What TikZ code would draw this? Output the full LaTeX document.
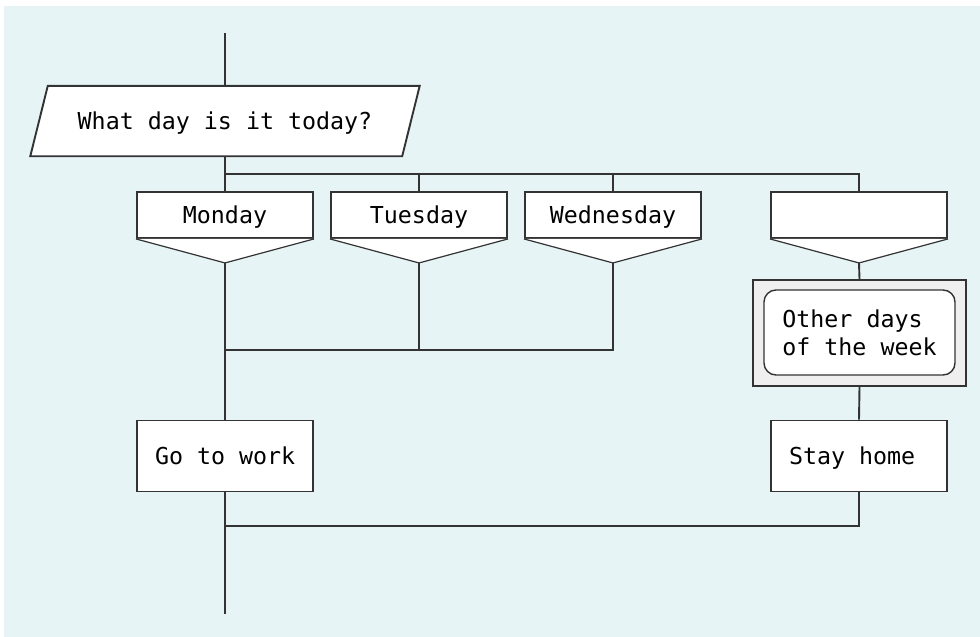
\documentclass[tikz,border=0pt]{standalone}
\usepackage{fontspec}
\setmonofont{DejaVu Sans Mono}
\usetikzlibrary{calc}
\definecolor{bgcyan}{RGB}{230,244,245}
\definecolor{ink}{RGB}{51,51,51}
\definecolor{panelgray}{RGB}{239,239,239}
\newcommand{\actiontext}[1]{\makebox[140pt][l]{#1}}
\begin{document}
\begin{tikzpicture}[x=1pt,y=-1pt,
  every node/.style={font=\ttfamily\fontsize{23.3}{28}\selectfont, text=black},
  flow/.style={draw=ink, line width=1.9pt},
  tipline/.style={draw=ink, line width=1.2pt, fill=white},
  label/.style={inner sep=0pt, text height=21pt, text depth=5pt},
  box/.style={label, draw=ink, line width=1.9pt, fill=white, minimum width=176pt},
  casebox/.style={box, minimum height=46pt},
  actionbox/.style={box, minimum height=71pt},
  panelbox/.style={draw=ink, line width=1.9pt, fill=panelgray, inner sep=0pt},
  roundbox/.style={draw=ink, line width=1.4pt, fill=white, rounded corners=12pt,
    inner sep=0pt, align=left},
]
% canvas
\useasboundingbox (0,0) rectangle (980,637);
\fill[bgcyan] (4,6) rectangle (980,637);

% question (parallelogram drawn around a plain node)
\node[inner sep=0pt, minimum width=389pt, minimum height=70pt] (q) at (225,121) {};
\filldraw[flow, fill=white, line join=miter]
  (q.south west) -- ($(q.north west)+(17.5,0)$) -- (q.north east)
  -- ($(q.south east)+(-17.5,0)$) -- cycle;
\node[label] at (q.center) {What day is it today?};

% case selectors
\node[casebox] (mon) at (225,215) {Monday};
\node[casebox] (tue) at (419,215) {Tuesday};
\node[casebox] (wed) at (613,215) {Wednesday};
\node[casebox] (oth) at (859,215) {};
\foreach \c in {mon,tue,wed,oth}{
  \coordinate (\c-tip) at ($(\c.south)+(0,24)$);
  \filldraw[tipline] (\c.south west) -- (\c-tip) -- (\c.south east);
}

% other days panel
\node[panelbox, minimum width=213pt, minimum height=106pt] (panel) at (859.5,333) {};
\node[roundbox, minimum width=191pt, minimum height=85pt] (other) at (859.5,332.5)
  {Other days\\of the week};

% actions
\node[actionbox] (work) at (225,456) {\actiontext{Go to work}};
\node[actionbox] (home) at (859,456) {\actiontext{Stay home}};

% junction points
\coordinate (entry) at (225,33);
\coordinate (split) at (225,174);
\coordinate (join1) at (225,350);
\coordinate (join2) at (225,526);
\coordinate (exit) at (225,614);

% connectors
\draw[flow] (entry) -- (q.north);
\draw[flow] (q.south) -- (split) -| (oth.north);
\draw[flow] (split) -- (mon.north);
\draw[flow] (split -| tue.north) -- (tue.north);
\draw[flow] (split -| wed.north) -- (wed.north);
\draw[flow] (mon-tip) -- (work.north);
\draw[flow] (tue-tip) |- (join1);
\draw[flow] (wed-tip) |- (join1);
\draw[flow] (oth-tip) -- (panel.north);
\draw[flow] (panel.south) -- (home.north);
\draw[flow] (work.south) -- (exit);
\draw[flow] (home.south) |- (join2);
\end{tikzpicture}
\end{document}
